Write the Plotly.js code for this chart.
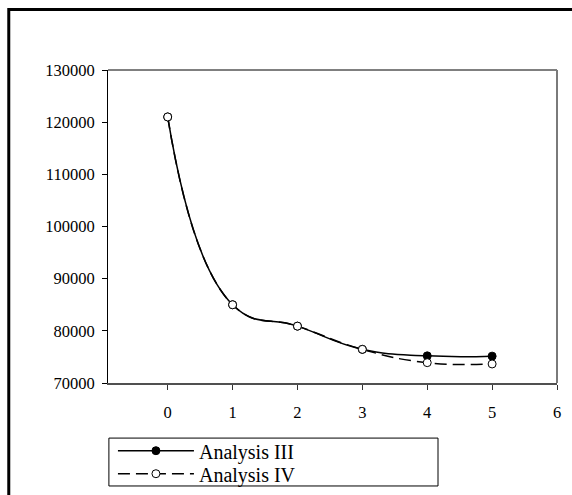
<!DOCTYPE html>
<html>
<head>
<meta charset="utf-8">
<script src="https://cdn.plot.ly/plotly-3.0.1.min.js"></script>
<style>
  html, body { margin: 0; padding: 0; background: #fff; }
  #chart { width: 572px; height: 495px; }
</style>
</head>
<body>
<div id="chart"></div>
<script>
// Iteration index along the x axis
const steps = [0, 1, 2, 3, 4, 5];
// Values for each analysis
const analysisIII = [121000, 85000, 80900, 76450, 75200, 75150];
const analysisIV  = [121000, 85000, 80900, 76450, 73900, 73650];
const seriesNames = ['Analysis III', 'Analysis IV'];
const xTicks = [0, 1, 2, 3, 4, 5, 6];
const yTicks = [70000, 80000, 90000, 100000, 110000, 120000, 130000];

const serif = 'Liberation Serif, Times New Roman, serif';

const traces = [
  {
    x: steps, y: analysisIII, name: seriesNames[0], legend: 'legend',
    type: 'scatter', mode: 'lines+markers',
    line: { color: '#000', width: 1.5, shape: 'spline', smoothing: 1.3 },
    marker: { symbol: 'circle', size: 8, color: '#000', line: { color: '#000', width: 1 } }
  },
  {
    x: steps, y: analysisIV, name: seriesNames[1], legend: 'legend2',
    type: 'scatter', mode: 'lines+markers',
    line: { color: '#000', width: 1.5, shape: 'spline', smoothing: 1.3, dash: '12px,6px' },
    marker: { symbol: 'circle', size: 8, color: '#fff', line: { color: '#000', width: 1 } }
  }
];

// each series gets its own legend so the two rows can sit close together
const legendCommon = {
  xanchor: 'left', yanchor: 'top',
  bgcolor: 'rgba(0,0,0,0)', borderwidth: 0,
  font: { family: serif, size: 20, color: '#000' },
  itemwidth: 76
};

const layout = {
  width: 572, height: 495,
  margin: { l: 108, r: 15, t: 70, b: 112, autoexpand: false },
  paper_bgcolor: '#fff', plot_bgcolor: '#fff',
  showlegend: true,
  xaxis: {
    range: [-0.92, 6], tickvals: xTicks, ticktext: xTicks.map(String),
    showgrid: false, zeroline: false,
    showline: true, linecolor: '#505050', linewidth: 1.5,
    ticks: 'outside', ticklen: 5, tickwidth: 1, tickcolor: '#333',
    ticklabelstandoff: 9,
    tickfont: { family: serif, size: 16.5, color: '#000' }
  },
  yaxis: {
    range: [70000, 130000], tickvals: yTicks, ticktext: yTicks.map(String),
    showgrid: false, zeroline: false,
    showline: true, linecolor: '#000', linewidth: 1,
    ticks: 'outside', ticklen: 5, tickwidth: 1, tickcolor: '#000',
    ticklabelstandoff: 4,
    tickfont: { family: serif, size: 16.5, color: '#000' }
  },
  legend: Object.assign({ x: 0.011, y: -0.154 }, legendCommon),
  legend2: Object.assign({ x: 0.011, y: -0.2275 }, legendCommon),
  shapes: [
    // top and right edges of the plotting box
    { type: 'line', xref: 'paper', yref: 'paper', x0: 0, x1: 1, y0: 1, y1: 1,
      line: { color: '#000', width: 1 } },
    { type: 'line', xref: 'paper', yref: 'paper', x0: 1, x1: 1, y0: 0, y1: 1,
      line: { color: '#7a7a7a', width: 2 } },
    // legend frame
    { type: 'rect', xref: 'paper', yref: 'paper',
      x0: 0.002, x1: 0.735, y0: -0.176, y1: -0.329,
      line: { color: '#000', width: 1 }, fillcolor: 'rgba(0,0,0,0)' },
    // outer page frame
    { type: 'rect', xref: 'paper', yref: 'paper',
      x0: -0.221, x1: 1.2, y0: 1.193, y1: -0.5,
      line: { color: '#000', width: 3 }, fillcolor: 'rgba(0,0,0,0)' }
  ]
};

Plotly.newPlot('chart', traces, layout, { displayModeBar: false, staticPlot: true });
</script>
</body>
</html>
